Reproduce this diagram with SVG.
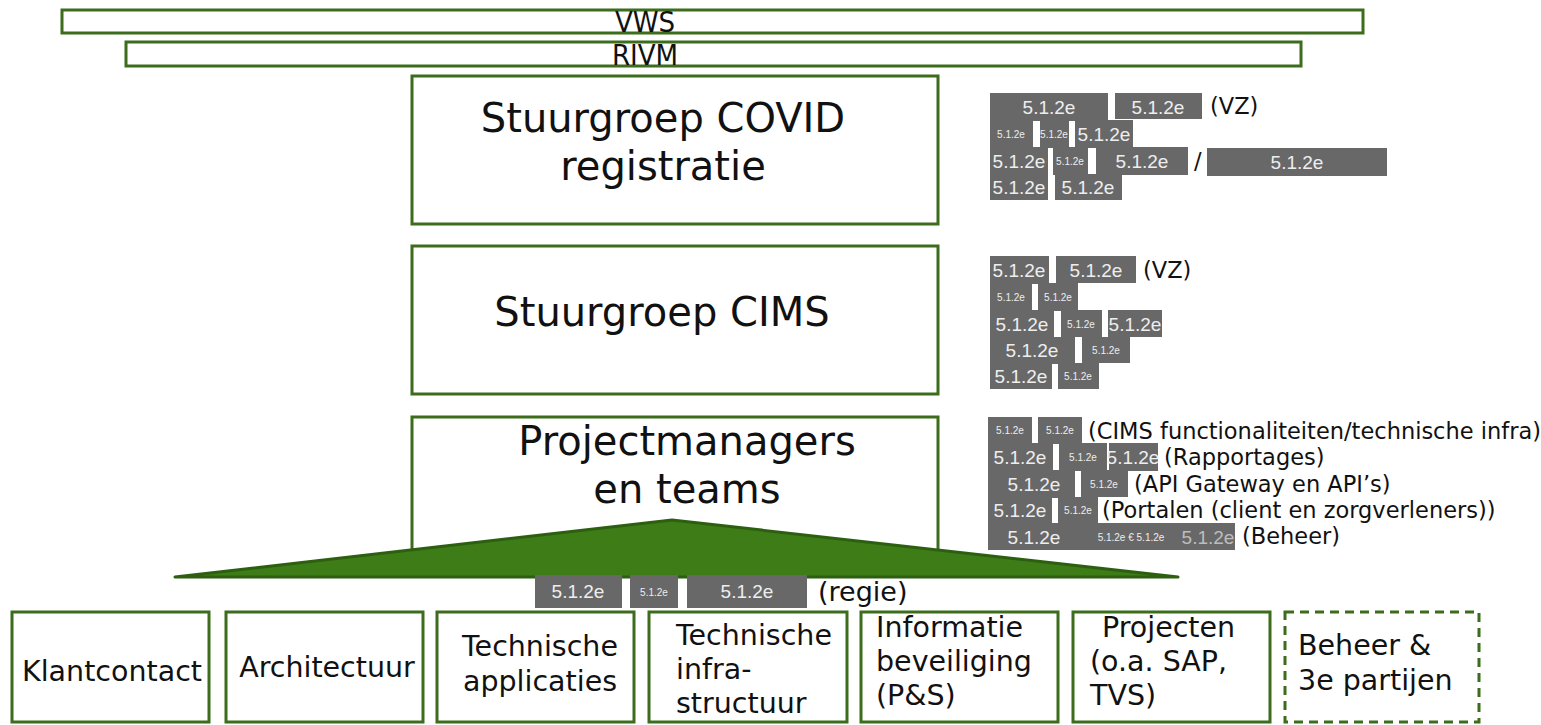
<svg xmlns="http://www.w3.org/2000/svg" width="1541" height="725" viewBox="0 0 1541 725">
<style>
.box{fill:#fff;stroke:#3b6d1d;stroke-width:3}
.dash{fill:#fff;stroke:#3b6d1d;stroke-width:3;stroke-dasharray:9 6}
.t{font-family:"DejaVu Sans",Verdana,sans-serif;fill:#111}
.big{font-size:40px;text-anchor:middle}
.bar{font-family:"DejaVu Sans Condensed","DejaVu Sans",sans-serif;font-stretch:condensed;font-size:29px;text-anchor:middle}
.sm{font-size:28.5px}
.note{font-size:22.5px}
.r{fill:#686868}
.rt{font-family:"Liberation Sans",Arial,sans-serif;fill:#eee;text-anchor:middle}
.b{font-size:19px}
.s{font-size:10px}
</style>
<rect width="1541" height="725" fill="#fff"/>

<g id="vws"><rect class="box" x="62" y="10" width="1301" height="23"/><text class="t bar" x="645" y="32">VWS</text></g>
<g id="rivm"><rect class="box" x="126" y="42" width="1175" height="24"/><text class="t bar" x="645" y="65">RIVM</text></g>

<g id="stuurgroep-covid"><rect class="box" x="412" y="76" width="526" height="148"/>
<text class="t big" x="663" y="132">Stuurgroep COVID</text><text class="t big" x="663" y="180">registratie</text></g>

<g id="stuurgroep-cims"><rect class="box" x="412" y="246" width="526" height="148"/>
<text class="t big" x="662" y="326">Stuurgroep CIMS</text></g>

<g id="projectmanagers"><rect class="box" x="412" y="417" width="526" height="145"/>
<text class="t big" x="687" y="455">Projectmanagers</text><text class="t big" x="687" y="503">en teams</text></g>

<g id="connectors"><polygon points="175,577 672,520 1178,577" fill="#3d7c17" stroke="#2d5f10" stroke-width="3" stroke-linejoin="round"/></g>

<g id="redactions-covid">
<rect class="r" x="990" y="93" width="118" height="28"/><text class="rt b" x="1049" y="114">5.1.2e</text>
<rect class="r" x="1115" y="93" width="87" height="26"/><text class="rt b" x="1158" y="114">5.1.2e</text>
<text class="t note" x="1210" y="114" font-size="23.5">(VZ)</text>
<rect class="r" x="990" y="120" width="43" height="28"/><text class="rt s" x="1011" y="138">5.1.2e</text>
<rect class="r" x="1040" y="120" width="29" height="28"/><text class="rt s" x="1054" y="138">5.1.2e</text>
<rect class="r" x="1075" y="120" width="58" height="28"/><text class="rt b" x="1104" y="141">5.1.2e</text>
<rect class="r" x="990" y="147" width="58" height="28"/><text class="rt b" x="1019" y="168">5.1.2e</text>
<rect class="r" x="1053" y="147" width="35" height="28"/><text class="rt s" x="1070" y="165">5.1.2e</text>
<rect class="r" x="1096" y="147" width="92" height="28"/><text class="rt b" x="1142" y="168">5.1.2e</text>
<text class="t note" x="1194" y="169">/</text>
<rect class="r" x="1207" y="148" width="180" height="28"/><text class="rt b" x="1297" y="169">5.1.2e</text>
<rect class="r" x="990" y="174" width="58" height="26"/><text class="rt b" x="1019" y="194">5.1.2e</text>
<rect class="r" x="1055" y="174" width="67" height="26"/><text class="rt b" x="1088" y="194">5.1.2e</text>
</g>

<g id="redactions-cims">
<rect class="r" x="990" y="256" width="59" height="28"/><text class="rt b" x="1019" y="277">5.1.2e</text>
<rect class="r" x="1056" y="256" width="80" height="27"/><text class="rt b" x="1096" y="277">5.1.2e</text>
<text class="t note" x="1143" y="278" font-size="23.5">(VZ)</text>
<rect class="r" x="990" y="283" width="42" height="28"/><text class="rt s" x="1011" y="301">5.1.2e</text>
<rect class="r" x="1038" y="283" width="40" height="28"/><text class="rt s" x="1058" y="301">5.1.2e</text>
<rect class="r" x="990" y="310" width="64" height="28"/><text class="rt b" x="1022" y="331">5.1.2e</text>
<rect class="r" x="1061" y="310" width="41" height="27"/><text class="rt s" x="1081" y="328">5.1.2e</text>
<rect class="r" x="1108" y="310" width="54" height="27"/><text class="rt b" x="1135" y="331">5.1.2e</text>
<rect class="r" x="990" y="337" width="85" height="27"/><text class="rt b" x="1032" y="357">5.1.2e</text>
<rect class="r" x="1082" y="337" width="48" height="26"/><text class="rt s" x="1106" y="354">5.1.2e</text>
<rect class="r" x="990" y="363" width="62" height="26"/><text class="rt b" x="1021" y="383">5.1.2e</text>
<rect class="r" x="1058" y="363" width="41" height="26"/><text class="rt s" x="1078" y="380">5.1.2e</text>
</g>

<g id="redactions-teams">
<rect class="r" x="988" y="417" width="44" height="27"/><text class="rt s" x="1010" y="434">5.1.2e</text>
<rect class="r" x="1038" y="417" width="44" height="27"/><text class="rt s" x="1060" y="434">5.1.2e</text>
<text class="t note" x="1088" y="439">(CIMS functionaliteiten/technische infra)</text>
<rect class="r" x="988" y="443" width="65" height="28"/><text class="rt b" x="1020" y="464">5.1.2e</text>
<rect class="r" x="1059" y="443" width="48" height="28"/><text class="rt s" x="1083" y="461">5.1.2e</text>
<rect class="r" x="1109" y="443" width="49" height="28"/><text class="rt b" x="1133" y="464">5.1.2e</text>
<text class="t note" x="1164" y="465">(Rapportages)</text>
<rect class="r" x="988" y="470" width="87" height="28"/><text class="rt b" x="1034" y="491">5.1.2e</text>
<rect class="r" x="1081" y="470" width="47" height="27"/><text class="rt s" x="1104" y="488">5.1.2e</text>
<text class="t note" x="1134" y="492">(API Gateway en API’s)</text>
<rect class="r" x="988" y="497" width="64" height="27"/><text class="rt b" x="1020" y="517">5.1.2e</text>
<rect class="r" x="1058" y="497" width="40" height="26"/><text class="rt s" x="1078" y="514">5.1.2e</text>
<text class="t note" x="1102" y="518">(Portalen (client en zorgverleners))</text>
<rect class="r" x="988" y="523" width="247" height="27"/>
<text class="rt b" x="1034" y="544">5.1.2e</text><text class="rt s" x="1131" y="541">5.1.2e € 5.1.2e</text><text class="rt b" x="1208" y="544" style="fill:#bdbdbd">5.1.2e</text>
<text class="t note" x="1242" y="544">(Beheer)</text>
</g>

<g id="redactions-regie">
<rect class="r" x="535" y="575" width="87" height="33"/><text class="rt b" x="578" y="598">5.1.2e</text>
<rect class="r" x="630" y="575" width="48" height="33"/><text class="rt s" x="654" y="596">5.1.2e</text>
<rect class="r" x="687" y="575" width="120" height="33"/><text class="rt b" x="747" y="598">5.1.2e</text>
<text class="t" x="818" y="601" font-size="27">(regie)</text>
</g>

<g id="klantcontact"><rect class="box" x="12" y="612" width="197" height="110"/><text class="t sm" x="112" y="681" text-anchor="middle">Klantcontact</text></g>
<g id="architectuur"><rect class="box" x="226" y="612" width="197" height="110"/><text class="t sm" x="327" y="677" text-anchor="middle">Architectuur</text></g>
<g id="technische-applicaties"><rect class="box" x="437" y="612" width="197" height="110"/><text class="t sm" x="540" y="656" text-anchor="middle">Technische</text><text class="t sm" x="540" y="691" text-anchor="middle">applicaties</text></g>
<g id="technische-infrastructuur"><rect class="box" x="649" y="612" width="198" height="110"/><text class="t sm" x="676" y="645">Technische</text><text class="t sm" x="676" y="679">infra-</text><text class="t sm" x="676" y="713">structuur</text></g>
<g id="informatiebeveiliging"><rect class="box" x="861" y="612" width="197" height="110"/><text class="t sm" x="876" y="637">Informatie</text><text class="t sm" x="876" y="671">beveiliging</text><text class="t sm" x="876" y="705">(P&amp;S)</text></g>
<g id="projecten"><rect class="box" x="1073" y="612" width="197" height="110"/><text class="t sm" x="1102" y="637">Projecten</text><text class="t sm" x="1090" y="671">(o.a. SAP,</text><text class="t sm" x="1090" y="705">TVS)</text></g>
<g id="beheer"><rect class="dash" x="1285" y="612" width="194" height="110"/><text class="t sm" x="1298" y="655">Beheer &amp;</text><text class="t sm" x="1298" y="690">3e partijen</text></g>
</svg>
